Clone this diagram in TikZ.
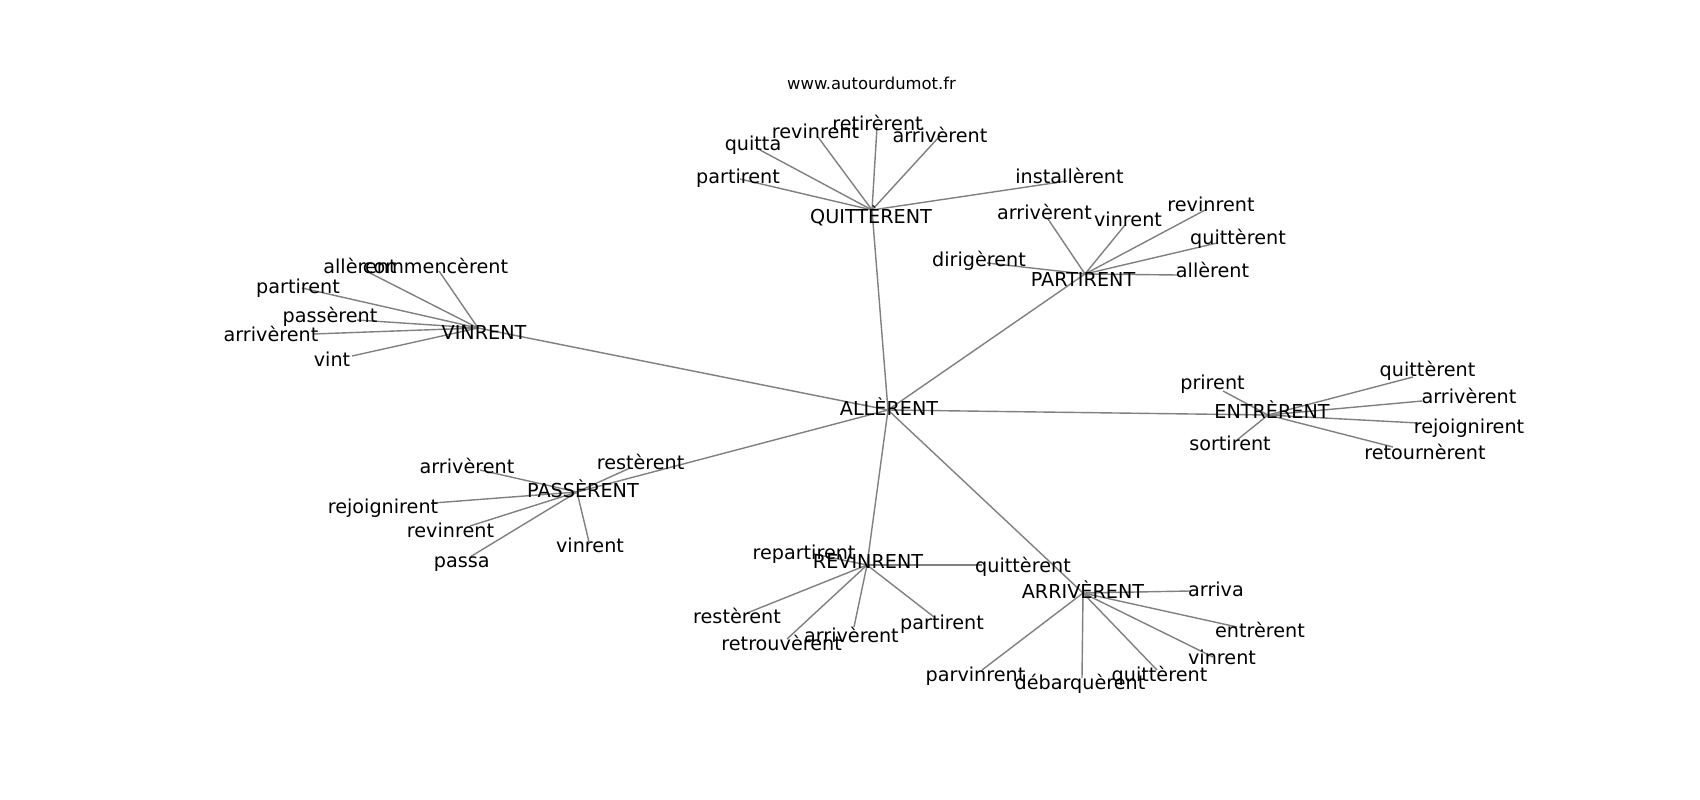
\documentclass[tikz,border=0pt]{standalone}
\usepackage{fontspec}
\setmainfont{DejaVu Sans}
\tikzset{
  lbl/.style={font=\fontsize{19.2}{23}\selectfont, inner sep=0pt, anchor=base, text=black},
  ttl/.style={font=\fontsize{16.4}{20}\selectfont, inner sep=0pt, anchor=base, text=black},
  edge/.style={draw=gray, line width=1.4pt}
}
\begin{document}
\begin{tikzpicture}[x=1pt,y=-1pt]
\fill[white] (0,0) rectangle (1700,800);
\useasboundingbox (0,0) rectangle (1700,800);
% points
\coordinate (pALL) at (888,410);
\coordinate (pQUI) at (872,210);
\coordinate (pPAR) at (1085,274);
\coordinate (pVIN) at (478,328);
\coordinate (pENT) at (1268,415);
\coordinate (pPAS) at (577,492);
\coordinate (pREV) at (867,565);
\coordinate (pARR) at (1083,593);
\coordinate (q1) at (877,127);
\coordinate (q2) at (818,137);
\coordinate (q3) at (938,138);
\coordinate (q4) at (760,150);
\coordinate (q5) at (740,179);
\coordinate (q6) at (1067,181);
\coordinate (p1) at (1048,219);
\coordinate (p2) at (1125,225);
\coordinate (p3) at (1207,209);
\coordinate (p4) at (1217,243);
\coordinate (p5) at (1178,275);
\coordinate (p6) at (987,263);
\coordinate (v1) at (370,273);
\coordinate (v2) at (439,271);
\coordinate (v3) at (302,288);
\coordinate (v4) at (357,320);
\coordinate (v5) at (313,334);
\coordinate (v6) at (352,356);
\coordinate (e1) at (1223,391);
\coordinate (e2) at (1413,377);
\coordinate (e3) at (1422,401);
\coordinate (e4) at (1418,423);
\coordinate (e5) at (1393,447);
\coordinate (e6) at (1237,440);
\coordinate (s1) at (630,468);
\coordinate (s2) at (480,470);
\coordinate (s3) at (433,503);
\coordinate (s4) at (470,526);
\coordinate (s5) at (470,557);
\coordinate (s6) at (589,542);
\coordinate (r1) at (814,554);
\coordinate (r2) at (982,565);
\coordinate (r3) at (747,613);
\coordinate (r4) at (787,639);
\coordinate (r5) at (854,627);
\coordinate (r6) at (934,617);
\coordinate (a1) at (1190,591);
\coordinate (a2) at (1237,627);
\coordinate (a3) at (1213,657);
\coordinate (a4) at (1157,670);
\coordinate (a5) at (1082,678);
\coordinate (a6) at (982,670);
% edges
\foreach \h in {pQUI,pPAR,pVIN,pENT,pPAS,pREV,pARR} \draw[edge] (pALL) -- (\h);
\foreach \l in {q1,q2,q3,q4,q5,q6} \draw[edge] (pQUI) -- (\l);
\foreach \l in {p1,p2,p3,p4,p5,p6} \draw[edge] (pPAR) -- (\l);
\foreach \l in {v1,v2,v3,v4,v5,v6} \draw[edge] (pVIN) -- (\l);
\foreach \l in {e1,e2,e3,e4,e5,e6} \draw[edge] (pENT) -- (\l);
\foreach \l in {s1,s2,s3,s4,s5,s6} \draw[edge] (pPAS) -- (\l);
\foreach \l in {r1,r2,r3,r4,r5,r6} \draw[edge] (pREV) -- (\l);
\foreach \l in {a1,a2,a3,a4,a5,a6} \draw[edge] (pARR) -- (\l);
% title
\node[ttl] (title) at (871.5,89) {www.autourdumot.fr};
% hub labels
\node[lbl] (lALL) at (889,415) {ALLÈRENT};
\node[lbl] (lQUI) at (871,223) {QUITTÈRENT};
\node[lbl] (lPAR) at (1083,286) {PARTIRENT};
\node[lbl] (lVIN) at (484,339) {VINRENT};
\node[lbl] (lENT) at (1272,418) {ENTRÈRENT};
\node[lbl] (lPAS) at (583,497) {PASSÈRENT};
\node[lbl] (lREV) at (868,568) {REVINRENT};
\node[lbl] (lARR) at (1083,598) {ARRIVÈRENT};
% QUITTÈRENT leaves
\node[lbl] (lq1) at (877.5,130) {retirèrent};
\node[lbl] (lq2) at (815.5,138) {revinrent};
\node[lbl] (lq3) at (940,142) {arrivèrent};
\node[lbl] (lq4) at (753,150) {quitta};
\node[lbl] (lq5) at (738,183) {partirent};
\node[lbl] (lq6) at (1069.5,183) {installèrent};
% PARTIRENT leaves
\node[lbl] (lp1) at (1044.5,219) {arrivèrent};
\node[lbl] (lp2) at (1128,226) {vinrent};
\node[lbl] (lp3) at (1211,211) {revinrent};
\node[lbl] (lp4) at (1238,244) {quittèrent};
\node[lbl] (lp5) at (1212.5,277) {allèrent};
\node[lbl] (lp6) at (979,266) {dirigèrent};
% VINRENT leaves
\node[lbl] (lv1) at (360,273) {allèrent};
\node[lbl] (lv2) at (435.5,273) {commencèrent};
\node[lbl] (lv3) at (298,293) {partirent};
\node[lbl] (lv4) at (330,322) {passèrent};
\node[lbl] (lv5) at (271,341) {arrivèrent};
\node[lbl] (lv6) at (332,366) {vint};
% ENTRÈRENT leaves
\node[lbl] (le1) at (1212.5,389) {prirent};
\node[lbl] (le2) at (1427.5,376) {quittèrent};
\node[lbl] (le3) at (1469,403) {arrivèrent};
\node[lbl] (le4) at (1469,433) {rejoignirent};
\node[lbl] (le5) at (1425,459) {retournèrent};
\node[lbl] (le6) at (1230,450) {sortirent};
% PASSÈRENT leaves
\node[lbl] (ls1) at (640.6,469) {restèrent};
\node[lbl] (ls2) at (467,473) {arrivèrent};
\node[lbl] (ls3) at (383,513) {rejoignirent};
\node[lbl] (ls4) at (450.5,537) {revinrent};
\node[lbl] (ls5) at (461.7,567) {passa};
\node[lbl] (ls6) at (590,552) {vinrent};
% REVINRENT leaves
\node[lbl] (lr1) at (804,559) {repartirent};
\node[lbl] (lr2) at (1023,572) {quittèrent};
\node[lbl] (lr3) at (737,623) {restèrent};
\node[lbl] (lr4) at (781.6,650) {retrouvèrent};
\node[lbl] (lr5) at (851.4,642) {arrivèrent};
\node[lbl] (lr6) at (942,629) {partirent};
% ARRIVÈRENT leaves
\node[lbl] (la1) at (1216,596) {arriva};
\node[lbl] (la2) at (1260,637) {entrèrent};
\node[lbl] (la3) at (1222,664) {vinrent};
\node[lbl] (la4) at (1159.5,681) {quittèrent};
\node[lbl] (la5) at (1080,689) {débarquèrent};
\node[lbl] (la6) at (975.5,681) {parvinrent};
\end{tikzpicture}
\end{document}
